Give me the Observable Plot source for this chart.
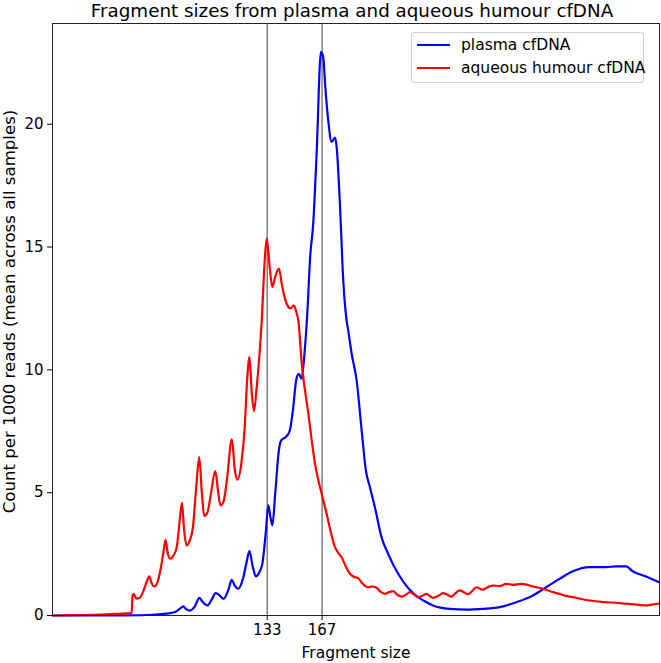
<!DOCTYPE html>
<html><head><meta charset="utf-8">
<script src="https://cdn.jsdelivr.net/npm/d3@7"></script>
<script src="https://cdn.jsdelivr.net/npm/@observablehq/plot@0.6"></script>
<style>
body{margin:0;background:#fff;font-family:"DejaVu Sans",sans-serif}
#wrap{position:relative;width:661px;height:663px}
#legend{position:absolute;left:411px;top:32px;width:231px;height:49px;border:1px solid #d0d0d0;border-radius:3px;background:rgba(255,255,255,0.85);font-size:15.5px;color:#000}
.row{position:absolute;left:5px;height:20px;display:flex;align-items:center;white-space:nowrap}
.row span.l{display:inline-block;width:33px;height:2px;margin-right:11px}
</style></head><body>
<div id="wrap"></div>
<script>
const title = "Fragment sizes from plasma and aqueous humour cfDNA";
const xLabel = "Fragment size";
const yLabel = "Count per 1000 reads (mean across all samples)";
const xTicks = [133, 167];
const yTicks = [0, 5, 10, 15, 20];
const seriesNames = ["plasma cfDNA", "aqueous humour cfDNA"];
const seriesColors = ["#0000ff", "#ff0000"];

const plasmaSize = [0,20,40,55,62,68,72,76,79,81,83,85,88,91,93,96,99,101,103,106,109,111,113,115,118,120,122,124,126,128,130,132,133.7,135,136.2,138,140,141.4,145,147,149,151,152.5,154.3,156,158,159.5,161.5,163.6,166.3,167.7,169,170.8,172.9,175,176,178,180.1,182.2,183.2,185.3,188.4,191.5,194.1,196.6,199.7,203.8,207.9,214.1,220.3,226.4,230,235.7,246,256.4,266.6,277,287.3,297.5,305.8,314,322.3,332.6,342.9,349.1,355.3,359.4,367.6,375.4];
const plasmaCount = [0,0,0.005,0.01,0.03,0.06,0.09,0.14,0.28,0.37,0.25,0.2,0.35,0.72,0.55,0.41,0.7,0.91,0.85,0.68,1.05,1.45,1.2,1.09,1.5,2.1,2.62,2.0,1.59,1.75,2.1,3.3,4.48,4.0,3.67,5.0,6.6,7.1,7.3,7.53,8.4,9.6,9.84,9.64,10.6,12.5,14.5,15.95,18.8,22.95,22.74,21.5,20.16,19.28,19.46,19.08,16.8,13.65,12.0,11.6,10.66,9.57,7.54,5.91,5.23,4.41,3.19,2.51,1.70,1.12,0.75,0.6,0.41,0.27,0.24,0.27,0.34,0.54,0.81,1.15,1.49,1.80,1.97,1.97,2.0,2.0,1.80,1.59,1.36];

const aqueousSize = [0,10,20,30,40,49,49.6,50.2,52,54,56,58.5,60,61.5,63,65,67,69,70,71.5,73,75,77,79,80.2,81.5,83,85,87,89,90.9,92.5,94,96,98,100.8,102.5,104,106,108,111.1,113,114.5,117,119,120.5,122,123.5,124.8,126.5,129.6,131.5,132.7,134.5,136.2,138,140.3,142,144,146.1,147.5,149.5,151.3,152.3,154.4,158.5,162.6,166.7,169.8,172,175,177,179.1,182,184.2,186.5,189.4,192,195.5,198,200.7,203,205.9,208.5,211,213.5,216.2,219,221.3,224,226.4,229,231.6,233.5,235.7,239,241.9,244.5,247.1,249.5,252.2,254.8,257.4,260,262.5,264.5,266.6,269.5,272.8,277,281.1,285,290.4,294,297.5,302,305.8,310,314,318,322.3,327,332.6,337,342.9,349,355.3,361,367.6,372,375.4];
const aqueousCount = [0,0.01,0.02,0.04,0.07,0.1,0.8,0.88,0.69,0.72,0.95,1.4,1.59,1.3,1.18,1.35,1.9,2.7,3.08,2.5,2.31,2.45,2.8,4.0,4.59,3.5,2.85,3.05,3.6,5.2,6.45,5.0,4.05,4.2,4.9,5.88,5.1,4.48,4.65,5.5,7.17,5.9,5.53,6.2,7.6,9.5,10.52,9.0,8.32,9.3,12.0,14.5,15.34,14.2,13.37,13.8,14.12,13.5,12.9,12.56,12.5,12.63,12.29,12.0,10.25,8.21,6.18,4.96,4.14,3.5,2.78,2.55,2.37,1.95,1.70,1.58,1.52,1.3,1.15,1.18,1.13,0.98,0.88,0.95,0.99,0.85,0.77,0.85,0.95,0.85,0.75,0.8,0.88,0.8,0.72,0.8,0.91,0.85,0.77,0.9,1.02,0.95,0.86,1.0,1.15,1.1,1.05,1.15,1.22,1.2,1.29,1.25,1.29,1.25,1.18,1.12,1.05,0.95,0.88,0.8,0.75,0.68,0.61,0.58,0.54,0.52,0.48,0.45,0.41,0.45,0.48];

const plasma = plasmaSize.map((x, i) => ({x, y: plasmaCount[i]}));
const aqueous = aqueousSize.map((x, i) => ({x, y: aqueousCount[i]}));

const chart = Plot.plot({
  width: 661, height: 663,
  marginLeft: 52, marginRight: 2, marginTop: 23, marginBottom: 48,
  style: {fontFamily: "DejaVu Sans", fontSize: "15px", background: "white", color: "black"},
  x: {domain: [0, 376]},
  y: {domain: [0, 24.1]},
  marks: [
    Plot.ruleX(xTicks, {stroke: "#808080", strokeWidth: 1.5}),
    Plot.line(plasma, {x: "x", y: "y", stroke: seriesColors[0], strokeWidth: 2.2, curve: "monotone-x"}),
    Plot.line(aqueous, {x: "x", y: "y", stroke: seriesColors[1], strokeWidth: 2.2, curve: "monotone-x"}),
    Plot.frame({stroke: "#222", strokeWidth: 1}),
    Plot.axisX({ticks: xTicks, tickSize: 5, tickPadding: 4, label: null, fontSize: 15, tickFormat: d => String(d)}),
    Plot.axisY({ticks: yTicks, tickSize: 5, tickPadding: 4, label: null, fontSize: 15, tickFormat: d => String(d)}),
    Plot.text([xLabel], {text: d => d, frameAnchor: "bottom", lineAnchor: "middle", dy: 38, fontSize: 15.5}),
    Plot.text([yLabel], {text: d => d, frameAnchor: "left", textAnchor: "middle", lineAnchor: "middle", dx: -43, dy: -8, rotate: -90, fontSize: 16.6}),
    Plot.text([title], {text: d => d, frameAnchor: "top", lineAnchor: "middle", dx: -4, dy: -12, fontSize: 18.3})
  ]
});
const wrap = document.getElementById("wrap");
wrap.appendChild(chart);

const legend = document.createElement("div");
legend.id = "legend";
seriesNames.forEach((name, i) => {
  const row = document.createElement("div");
  row.className = "row";
  row.style.top = (2 + i * 23) + "px";
  const l = document.createElement("span");
  l.className = "l";
  l.style.background = seriesColors[i];
  const t = document.createElement("span");
  t.textContent = name;
  row.appendChild(l); row.appendChild(t);
  legend.appendChild(row);
});
wrap.appendChild(legend);
</script>
</body></html>
